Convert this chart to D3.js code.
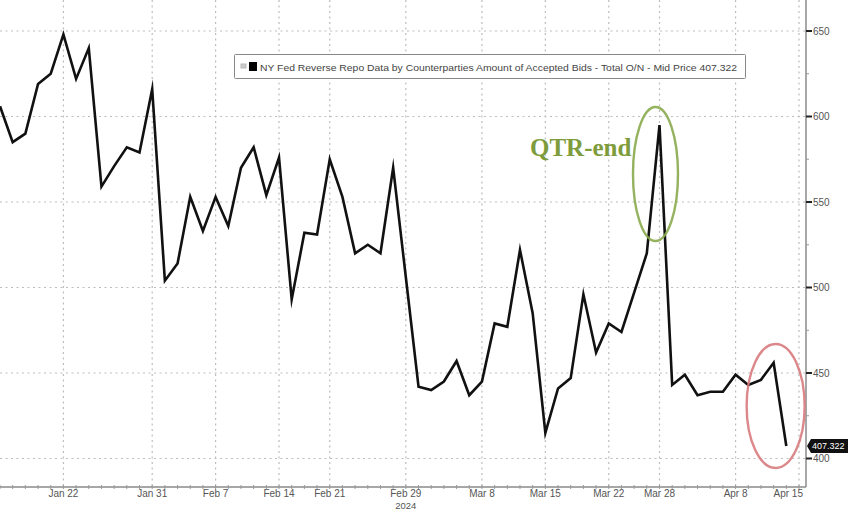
<!DOCTYPE html>
<html><head><meta charset="utf-8">
<script src="https://cdn.jsdelivr.net/npm/d3@7"></script>
<style>html,body{margin:0;padding:0;background:#fff;overflow:hidden}</style>
</head><body>
<svg id="c" width="848" height="510"></svg>
<script>
// ---- data ----
const values = [606,585,590,619,625,648,622,640,559,571,582,579,616,504,514,553,533,553,536,570,582,554,576,493,532,531,575,553,520,525,520,570,506,442,440,445,457,437,445,479,477,522,485,415,441,447,496,462,479,474,497,520,595,443,449,437,439,439,449,443,446,456,407.322];
const tickLabels = ["Jan 22","Jan 31","Feb 7","Feb 14","Feb 21","Feb 29","Mar 8","Mar 15","Mar 22","Mar 28","Apr 8","Apr 15"];
const tickIndex = [5,12,17,22,26,32,38,43,48,52,58,63];
const yTicks = [400,450,500,550,600,650];
const yMinor = [425,475,525,575,625];
const legendText = "NY Fed Reverse Repo Data by Counterparties Amount of Accepted Bids - Total O/N - Mid Price 407.322";
const lastLabel = "407.322";
const annotation = "QTR-end";
const yearLabel = "2024";

const svg = d3.select("#c");
const x = d3.scaleLinear().domain([0, 63]).range([0, 799]);
const y = d3.scaleLinear().domain([400, 650]).range([458.5, 31]);
const axisX = 806, axisY = 487;

// grid
const g = svg.append("g");
g.selectAll("line.hg").data(yTicks).join("line")
  .attr("x1", 0).attr("x2", axisX).attr("y1", d => y(d)).attr("y2", d => y(d))
  .attr("stroke", "#bdbdbd").attr("stroke-width", 1.2).attr("stroke-dasharray", "2,3.5");
g.selectAll("line.vg").data(tickIndex).join("line")
  .attr("x1", d => x(d)).attr("x2", d => x(d)).attr("y1", 0).attr("y2", axisY)
  .attr("stroke", "#bdbdbd").attr("stroke-width", 1.2).attr("stroke-dasharray", "2,3.5");

// axes lines
svg.append("line").attr("x1", 0).attr("x2", axisX).attr("y1", axisY).attr("y2", axisY)
  .attr("stroke", "#8a8a8a").attr("stroke-width", 1.5);
svg.append("line").attr("x1", axisX).attr("x2", axisX).attr("y1", 0).attr("y2", axisY)
  .attr("stroke", "#8a8a8a").attr("stroke-width", 1.5);

// x minor ticks
svg.append("g").selectAll("line").data(d3.range(0, 64)).join("line")
  .attr("x1", d => x(d)).attr("x2", d => x(d)).attr("y1", axisY - 2).attr("y2", axisY + 2)
  .attr("stroke", "#999").attr("stroke-width", 1);

// y ticks
svg.append("g").selectAll("line").data(yTicks).join("line")
  .attr("x1", axisX).attr("x2", axisX + 6).attr("y1", d => y(d)).attr("y2", d => y(d))
  .attr("stroke", "#222").attr("stroke-width", 2);
svg.append("g").selectAll("line").data(yMinor).join("line")
  .attr("x1", axisX).attr("x2", axisX + 3).attr("y1", d => y(d)).attr("y2", d => y(d))
  .attr("stroke", "#999").attr("stroke-width", 1);
svg.append("g").selectAll("text").data(yTicks).join("text")
  .attr("x", axisX + 7).attr("y", d => y(d)).attr("dy", "0.35em")
  .attr("font-family", "Liberation Sans, Arial, sans-serif").attr("font-size", 10)
  .attr("fill", "#555").text(d => d);

// x labels
svg.append("g").selectAll("text").data(tickLabels).join("text")
  .attr("x", (d, i) => i === tickLabels.length - 1 ? 803 : x(tickIndex[i]))
  .attr("y", 497)
  .attr("text-anchor", (d, i) => i === tickLabels.length - 1 ? "end" : "middle")
  .attr("font-family", "Liberation Sans, Arial, sans-serif").attr("font-size", 10)
  .attr("fill", "#555").text(d => d);
svg.append("text").attr("x", x(32)).attr("y", 509).attr("text-anchor", "middle")
  .attr("font-family", "Liberation Sans, Arial, sans-serif").attr("font-size", 9.5)
  .attr("fill", "#555").text(yearLabel);

// data line
const line = d3.line().x((d, i) => x(i)).y(d => y(d));
svg.append("path").datum(values).attr("d", line)
  .attr("fill", "none").attr("stroke", "#111").attr("stroke-width", 2.6)
  .attr("stroke-linejoin", "miter").attr("stroke-miterlimit", 10);

// legend
const lg = svg.append("g");
lg.append("rect").attr("x", 234.5).attr("y", 54.5).attr("width", 511).attr("height", 24)
  .attr("fill", "#fff").attr("stroke", "#888").attr("stroke-width", 1).attr("rx", 1);
lg.append("rect").attr("x", 241).attr("y", 64).attr("width", 5).attr("height", 4)
  .attr("fill", "#ccc").attr("stroke", "#bbb");
lg.append("rect").attr("x", 249).attr("y", 62).attr("width", 8).attr("height", 9)
  .attr("fill", "#000");
lg.append("text").attr("x", 260).attr("y", 70.5)
  .attr("font-family", "Liberation Sans, Arial, sans-serif").attr("font-size", 9.8)
  .attr("textLength", 477).attr("lengthAdjust", "spacingAndGlyphs")
  .attr("fill", "#444").text(legendText);

// annotation
svg.append("text").attr("x", 530).attr("y", 156)
  .attr("font-family", "Liberation Serif, DejaVu Serif, serif").attr("font-weight", "bold")
  .attr("font-size", 25).attr("fill", "#7e9c3c").text(annotation);
svg.append("ellipse").attr("cx", x(52) - 4).attr("cy", y(595) + 49).attr("rx", 22.5).attr("ry", 67)
  .attr("fill", "none").attr("stroke", "#8aaa4e").attr("stroke-width", 2.4).attr("opacity", 0.9);
svg.append("ellipse").attr("cx", x(61) + 2).attr("cy", y(407.322) - 40).attr("rx", 29).attr("ry", 62)
  .attr("fill", "none").attr("stroke", "#d87b7e").attr("stroke-width", 2.4).attr("opacity", 0.9);

// last value label
const ly = y(values[values.length - 1]);
svg.append("path")
  .attr("d", `M${axisX + 1},${ly} L${axisX + 5},${ly - 7} L848,${ly - 7} L848,${ly + 7} L${axisX + 5},${ly + 7} Z`)
  .attr("fill", "#111");
svg.append("text").attr("x", axisX + 6).attr("y", ly).attr("dy", "0.35em")
  .attr("font-family", "Liberation Sans, Arial, sans-serif").attr("font-size", 9)
  .attr("fill", "#fff").text(lastLabel);
</script>
</body></html>
